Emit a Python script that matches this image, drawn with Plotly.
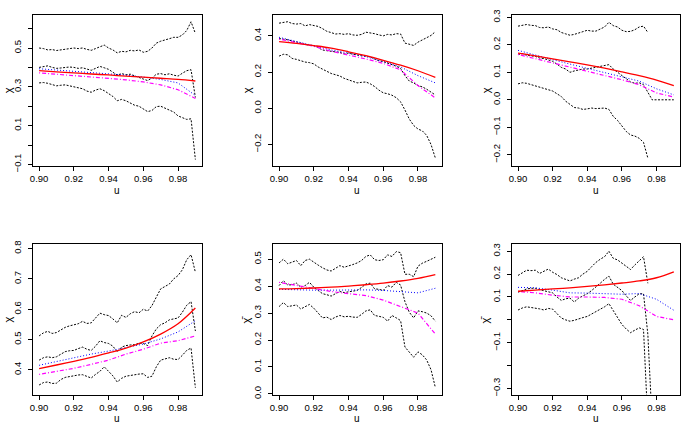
import plotly.graph_objects as go

# ---------------- data ----------------
u_fine = [round(0.9 + 0.0025 * i, 4) for i in range(37)]
u_coarse = [0.90, 0.91, 0.92, 0.93, 0.94, 0.95, 0.96, 0.97, 0.98, 0.99]
x_ticks = [0.90, 0.92, 0.94, 0.96, 0.98]
x_ticktext = ["0.90", "0.92", "0.94", "0.96", "0.98"]

# Panel 1 (chi)
p1_upper = [0.500,0.497,0.490,0.492,0.487,0.490,0.495,0.497,0.500,0.497,0.500,0.493,0.488,0.497,0.508,0.515,0.500,0.490,0.475,0.483,0.480,0.488,0.485,0.490,0.478,0.483,0.500,0.525,0.535,0.540,0.548,0.555,0.555,0.567,0.590,0.635,0.575]
p1_mid = [0.400,0.405,0.408,0.400,0.395,0.397,0.400,0.402,0.400,0.395,0.398,0.390,0.385,0.395,0.405,0.398,0.390,0.375,0.360,0.368,0.362,0.365,0.358,0.350,0.340,0.332,0.345,0.365,0.368,0.362,0.367,0.360,0.355,0.370,0.383,0.388,0.245]
p1_lower = [0.320,0.322,0.318,0.310,0.305,0.308,0.310,0.305,0.300,0.295,0.290,0.278,0.272,0.283,0.290,0.280,0.265,0.250,0.228,0.235,0.228,0.215,0.205,0.200,0.185,0.172,0.178,0.198,0.200,0.190,0.183,0.170,0.150,0.140,0.132,0.135,-0.075]
p1_red = [0.383,0.377,0.372,0.366,0.361,0.355,0.350,0.344,0.338,0.330]
p1_blue = [0.393,0.387,0.381,0.375,0.368,0.360,0.350,0.338,0.320,0.255]
p1_mag = [0.372,0.365,0.357,0.350,0.343,0.336,0.325,0.310,0.285,0.240]

# Panel 2 (chi)
p2_upper = [0.470,0.475,0.478,0.468,0.465,0.468,0.455,0.462,0.458,0.452,0.440,0.425,0.418,0.410,0.412,0.408,0.412,0.405,0.403,0.408,0.420,0.418,0.412,0.405,0.400,0.408,0.405,0.412,0.410,0.360,0.352,0.347,0.365,0.378,0.388,0.402,0.423]
p2_mid = [0.385,0.383,0.378,0.372,0.368,0.360,0.352,0.350,0.345,0.335,0.322,0.318,0.315,0.312,0.308,0.300,0.305,0.298,0.292,0.290,0.288,0.283,0.272,0.262,0.258,0.250,0.243,0.232,0.220,0.180,0.150,0.140,0.125,0.118,0.105,0.090,0.073]
p2_lower = [0.288,0.298,0.295,0.275,0.270,0.262,0.255,0.252,0.245,0.228,0.215,0.205,0.192,0.185,0.178,0.165,0.158,0.150,0.140,0.143,0.145,0.135,0.120,0.100,0.085,0.080,0.072,0.058,0.035,-0.010,-0.060,-0.095,-0.115,-0.125,-0.150,-0.200,-0.275]
p2_red = [0.368,0.358,0.346,0.332,0.312,0.290,0.265,0.238,0.207,0.170]
p2_blue = [0.392,0.370,0.348,0.322,0.305,0.285,0.258,0.228,0.180,0.140]
p2_mag = [0.382,0.362,0.342,0.315,0.295,0.272,0.248,0.212,0.125,0.057]

# Panel 3 (chi)
p3_upper = [0.268,0.272,0.274,0.271,0.270,0.263,0.262,0.265,0.258,0.255,0.245,0.240,0.235,0.238,0.242,0.248,0.253,0.250,0.250,0.258,0.265,0.282,0.270,0.265,0.253,0.248,0.249,0.255,0.265,0.268,0.245,None,None,None,None,None,None]
p3_mid = [0.165,0.168,0.162,0.160,0.158,0.152,0.150,0.145,0.140,0.130,0.118,0.112,0.100,0.105,0.108,0.112,0.112,0.115,0.118,0.122,0.125,0.128,0.112,0.100,0.088,0.078,0.065,0.060,0.062,0.055,0.025,0.000,0.000,0.000,0.000,0.000,0.000]
p3_lower = [0.058,0.062,0.060,0.055,0.052,0.045,0.040,0.035,0.032,0.022,0.012,-0.005,-0.015,-0.028,-0.030,-0.035,-0.033,-0.030,-0.032,-0.030,-0.030,-0.035,-0.060,-0.075,-0.095,-0.115,-0.128,-0.132,-0.140,-0.155,-0.212,None,None,None,None,None,None]
p3_red = [0.170,0.160,0.149,0.138,0.127,0.115,0.102,0.088,0.072,0.052]
p3_blue = [0.180,0.162,0.146,0.130,0.115,0.100,0.085,0.068,0.040,0.018]
p3_mag = [0.165,0.150,0.134,0.118,0.103,0.088,0.073,0.055,0.025,0.010]

# Panel 4 (chi)
p4_upper = [0.512,0.522,0.527,0.520,0.523,0.532,0.540,0.545,0.549,0.552,0.560,0.553,0.555,0.570,0.587,0.582,0.579,0.568,0.555,0.580,0.573,0.585,0.592,0.588,0.600,0.594,0.612,0.640,0.667,0.675,0.683,0.700,0.711,0.730,0.763,0.780,0.722]
p4_mid = [0.432,0.440,0.443,0.440,0.443,0.452,0.460,0.463,0.464,0.470,0.475,0.468,0.464,0.478,0.496,0.490,0.487,0.478,0.459,0.475,0.480,0.482,0.483,0.488,0.487,0.480,0.512,0.535,0.549,0.555,0.565,0.568,0.571,0.590,0.613,0.625,0.528]
p4_lower = [0.350,0.358,0.360,0.355,0.356,0.368,0.375,0.378,0.379,0.383,0.384,0.378,0.373,0.385,0.395,0.410,0.395,0.380,0.360,0.372,0.379,0.382,0.384,0.386,0.387,0.375,0.379,0.410,0.432,0.436,0.440,0.435,0.434,0.448,0.464,0.472,0.341]
p4_red = [0.404,0.416,0.428,0.441,0.456,0.472,0.492,0.518,0.552,0.604]
p4_blue = [0.415,0.428,0.440,0.452,0.462,0.473,0.485,0.502,0.525,0.562]
p4_mag = [0.385,0.395,0.405,0.418,0.432,0.452,0.468,0.488,0.496,0.512]

# Panel 5 (chi-bar)
p5_upper = [0.486,0.500,0.483,0.490,0.495,0.476,0.495,0.500,0.488,0.478,0.468,0.460,0.456,0.465,0.476,0.470,0.474,0.480,0.486,0.495,0.510,0.516,0.498,0.495,0.498,0.516,0.510,0.528,0.524,0.444,0.444,0.435,0.474,0.485,0.492,0.500,0.507]
p5_mid = [0.402,0.420,0.404,0.405,0.411,0.396,0.402,0.414,0.396,0.385,0.372,0.368,0.363,0.372,0.380,0.376,0.378,0.380,0.384,0.395,0.408,0.411,0.390,0.388,0.384,0.402,0.396,0.414,0.404,0.342,0.303,0.282,0.308,0.305,0.300,0.290,0.270]
p5_lower = [0.324,0.339,0.324,0.328,0.330,0.315,0.324,0.332,0.318,0.300,0.282,0.285,0.276,0.285,0.291,0.286,0.288,0.285,0.284,0.295,0.308,0.312,0.291,0.288,0.284,0.270,0.291,0.282,0.272,0.174,0.156,0.136,0.156,0.145,0.126,0.090,0.024]
p5_red = [0.390,0.391,0.393,0.396,0.400,0.405,0.411,0.419,0.429,0.443]
p5_blue = [0.388,0.386,0.385,0.385,0.386,0.386,0.384,0.380,0.375,0.392]
p5_mag = [0.414,0.402,0.390,0.380,0.372,0.365,0.348,0.325,0.300,0.222]

# Panel 6 (chi-bar)
p6_upper = [0.194,0.205,0.217,0.215,0.217,0.203,0.212,0.222,0.208,0.198,0.184,0.178,0.170,0.178,0.184,0.200,0.212,0.232,0.251,0.265,0.276,0.300,0.269,0.262,0.248,0.235,0.220,0.240,0.259,0.276,0.160,None,None,None,None,None,None]
p6_mid = [0.121,0.128,0.135,0.138,0.138,0.132,0.128,0.122,0.118,0.100,0.085,0.092,0.095,0.078,0.095,0.105,0.114,0.128,0.142,0.160,0.177,0.191,0.156,0.140,0.128,0.105,0.085,0.100,0.114,0.114,-0.063,-0.450,None,None,None,None,None]
p6_lower = [0.043,0.052,0.057,0.055,0.053,0.048,0.043,0.050,0.047,0.028,0.008,0.000,-0.006,-0.002,0.005,0.010,0.015,0.025,0.036,0.045,0.057,0.071,0.039,0.010,-0.020,-0.040,-0.056,-0.045,-0.035,-0.042,-0.450,None,None,None,None,None,None]
p6_red = [0.125,0.130,0.135,0.140,0.146,0.153,0.161,0.170,0.184,0.210]
p6_blue = [0.142,0.140,0.130,0.118,0.117,0.115,0.112,0.115,0.090,0.042]
p6_mag = [0.124,0.118,0.108,0.100,0.100,0.098,0.090,0.062,0.015,0.000]

# y tick definitions per panel
y_ticks = [
    [-0.1, 0.0, 0.1, 0.2, 0.3, 0.4, 0.5, 0.6],
    [-0.2, 0.0, 0.2, 0.4],
    [-0.2, -0.1, 0.0, 0.1, 0.2, 0.3],
    [0.4, 0.5, 0.6, 0.7, 0.8],
    [0.0, 0.1, 0.2, 0.3, 0.4, 0.5],
    [-0.3, -0.2, -0.1, 0.0, 0.1, 0.2, 0.3],
]
y_ticktext = [
    ["\u22120.1", "", "0.1", "", "0.3", "", "0.5", ""],
    ["\u22120.2", "0.0", "0.2", "0.4"],
    ["\u22120.2", "\u22120.1", "0.0", "0.1", "0.2", "0.3"],
    ["0.4", "0.5", "0.6", "0.7", "0.8"],
    ["0.0", "0.1", "0.2", "0.3", "0.4", "0.5"],
    ["\u22120.3", "", "\u22120.1", "", "0.1", "0.2", "0.3"],
]
y_labels = ["\u03c7", "\u03c7", "\u03c7", "\u03c7", "\u03c7\u0304", "\u03c7\u0304"]

panels = [
    (p1_upper, p1_mid, p1_lower, p1_red, p1_blue, p1_mag),
    (p2_upper, p2_mid, p2_lower, p2_red, p2_blue, p2_mag),
    (p3_upper, p3_mid, p3_lower, p3_red, p3_blue, p3_mag),
    (p4_upper, p4_mid, p4_lower, p4_red, p4_blue, p4_mag),
    (p5_upper, p5_mid, p5_lower, p5_red, p5_blue, p5_mag),
    (p6_upper, p6_mid, p6_lower, p6_red, p6_blue, p6_mag),
]

# ---------------- layout geometry (pixels) ----------------
W, H = 690, 434
col_px = [(30, 199.5), (271, 440.5), (511, 680)]
row_px = [(9.3, 164.7), (245.7, 400.7)]
y_ranges = [(-0.107, 0.67), (-0.318, 0.515), (-0.240, 0.3085),
            (0.318, 0.814), (-0.003, 0.555), (-0.327, 0.330)]
ylab_x = [5, 245, 486, 5, 244, 484]

FONT = "Liberation Sans, Arial, sans-serif"
fig = go.Figure()
layout = dict(width=W, height=H, margin=dict(l=0, r=0, t=0, b=0),
              paper_bgcolor="white", plot_bgcolor="white", showlegend=False,
              font=dict(family=FONT, size=9.5, color="black"))
annotations = []

for k, (up, mid, low, red, blue, mag) in enumerate(panels):
    r, c = divmod(k, 3)
    xa = "x" if k == 0 else f"x{k+1}"
    ya = "y" if k == 0 else f"y{k+1}"
    black = dict(color="black", width=1, dash="2px,1.5px")
    for series in (up, mid, low):
        fig.add_trace(go.Scatter(x=u_fine, y=series, mode="lines", line=black,
                                 xaxis=xa, yaxis=ya, connectgaps=False))
    fig.add_trace(go.Scatter(x=u_coarse, y=blue, mode="lines", xaxis=xa, yaxis=ya,
                             line=dict(color="blue", width=1, dash="1px,2px")))
    fig.add_trace(go.Scatter(x=u_coarse, y=mag, mode="lines", xaxis=xa, yaxis=ya,
                             line=dict(color="magenta", width=1.2, dash="1px,2px,4px,2px")))
    fig.add_trace(go.Scatter(x=u_coarse, y=red, mode="lines", xaxis=xa, yaxis=ya,
                             line=dict(color="red", width=1.3, shape="spline")))

    x0, x1 = col_px[c]
    yt, yb = row_px[r]
    axcommon = dict(showline=True, mirror=True, linecolor="black", linewidth=1,
                    ticks="outside", ticklen=4, tickcolor="black", tickwidth=1,
                    showgrid=False, zeroline=False,
                    tickfont=dict(family=FONT, size=9.5, color="black"))
    layout["xaxis" if k == 0 else f"xaxis{k+1}"] = dict(
        domain=[x0 / W, x1 / W], anchor=ya, range=[0.8964, 0.9936],
        tickvals=x_ticks, ticktext=x_ticktext, **axcommon)
    layout["yaxis" if k == 0 else f"yaxis{k+1}"] = dict(
        domain=[1 - yb / H, 1 - yt / H], anchor=xa, range=list(y_ranges[k]),
        tickvals=y_ticks[k], ticktext=y_ticktext[k], tickangle=-90,
        ticklabelstandoff=3, **axcommon)

    annotations.append(dict(text="u", xref="paper", yref="paper",
                            x=((x0 + x1) / 2) / W, y=1 - (yb + 25) / H,
                            xanchor="center", yanchor="middle", showarrow=False,
                            font=dict(family=FONT, size=10, color="black")))
    annotations.append(dict(text=y_labels[k], xref="paper", yref="paper",
                            x=ylab_x[k] / W, y=1 - ((yt + yb) / 2) / H,
                            xanchor="center", yanchor="middle", showarrow=False,
                            textangle=-90,
                            font=dict(family=FONT, size=11, color="black")))

layout["annotations"] = annotations
fig.update_layout(**layout)
fig.write_html("out.html")
